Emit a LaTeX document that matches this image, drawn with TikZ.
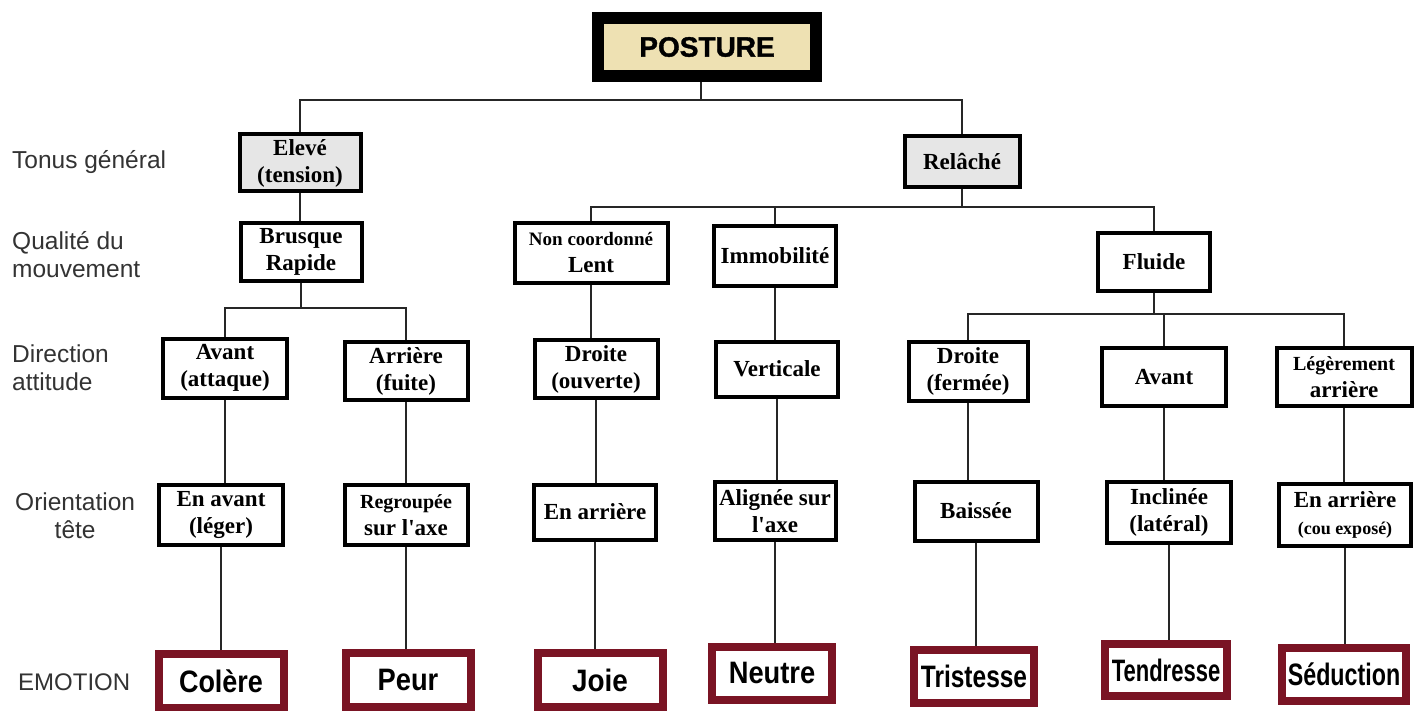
\documentclass[tikz,border=0pt]{standalone}
\usepackage{fontspec}
\setmainfont{Liberation Serif}
\newfontfamily\labfont{Liberation Sans}
\newfontfamily\heavyfont[BoldFeatures={FakeBold=1.3}]{Liberation Sans}
\newfontfamily\emofont{Liberation Sans}
\definecolor{beige}{HTML}{EEE1B3}
\definecolor{boxgray}{HTML}{E6E6E6}
\definecolor{emored}{HTML}{7A1424}
\definecolor{labgray}{HTML}{333333}
\newcommand{\emotext}[2]{\scalebox{#1}[1]{#2}}
\newcommand{\apos}{\textquotesingle}
\begin{document}
\begin{tikzpicture}[x=1pt,y=-1pt,
  box/.style={draw=black, line width=4pt, fill=white, inner sep=0pt, align=center,
    font=\bfseries\fontsize{23}{27}\selectfont},
  graybox/.style={box, fill=boxgray},
  postbox/.style={draw=black, line width=12pt, fill=beige, inner sep=0pt,
    font=\heavyfont\bfseries\fontsize{28}{30}\selectfont},
  emobox/.style={draw=emored, line width=8pt, fill=white, inner sep=0pt,
    font=\emofont\bfseries\fontsize{31}{34}\selectfont},
  lab/.style={inner sep=0pt, text=labgray, font=\labfont\fontsize{24.5}{28}\selectfont},
  conn/.style={draw=black!85, line width=1.3pt}
]
\useasboundingbox[fill=white] (0,0) rectangle (1423,711);

% title
\node[postbox, minimum width=218pt, minimum height=58pt] (post) at (707,47) {POSTURE};

% tonus
\node[graybox, minimum width=121pt, minimum height=57pt] (elev) at (300,163) {Elevé\\(tension)};
\node[graybox, minimum width=115pt, minimum height=51pt] (rel) at (962,162) {Relâché};

% qualite
\node[box, minimum width=121pt, minimum height=58pt] (brus) at (301,252) {Brusque\\Rapide};
\node[box, minimum width=153pt, minimum height=60pt] (nonc) at (591,253)
  {{\fontsize{19}{22}\selectfont Non coordonné}\\Lent};
\node[box, minimum width=122pt, minimum height=59pt] (immo) at (775,256) {Immobilité};
\node[box, minimum width=112pt, minimum height=58pt] (flui) at (1154,262) {Fluide};

% direction
\node[box, minimum width=124pt, minimum height=59pt] (d1) at (225,368) {Avant\\(attaque)};
\node[box, minimum width=123pt, minimum height=58pt] (d2) at (406,371) {Arrière\\(fuite)};
\node[box, minimum width=123pt, minimum height=58pt] (d3) at (596,369) {Droite\\(ouverte)};
\node[box, minimum width=122pt, minimum height=55pt] (d4) at (777,369) {Verticale};
\node[box, minimum width=119pt, minimum height=59pt] (d5) at (968,371) {Droite\\(fermée)};
\node[box, minimum width=124pt, minimum height=58pt] (d6) at (1164,377) {Avant};
\node[box, minimum width=135pt, minimum height=58pt] (d7) at (1344,377)
  {{\fontsize{20}{24}\selectfont Légèrement}\\arrière};

% orientation
\node[box, minimum width=124pt, minimum height=60pt] (o1) at (221,515) {En avant\\(léger)};
\node[box, minimum width=123pt, minimum height=60pt] (o2) at (406,515)
  {\fontsize{20}{25}\selectfont Regroupée\\sur l\apos axe};
\node[box, minimum width=122pt, minimum height=55pt] (o3) at (595,512) {En arrière};
\node[box, minimum width=121pt, minimum height=58pt] (o4) at (775,511) {Alignée sur\\l\apos axe};
\node[box, minimum width=123pt, minimum height=59pt] (o5) at (976,511) {Baissée};
\node[box, minimum width=124pt, minimum height=61pt] (o6) at (1169,512) {Inclinée\\(latéral)};
\node[box, minimum width=132pt, minimum height=62pt] (o7) at (1345,515)
  {En arrière\\{\fontsize{18}{22}\selectfont (cou exposé)}};

% emotions
\node[emobox, minimum width=125pt, minimum height=54pt] (e1) at (221,681) {\emotext{0.87}{Colère}};
\node[emobox, minimum width=125pt, minimum height=54pt] (e2) at (408,680) {\emotext{0.88}{Peur}};
\node[emobox, minimum width=125pt, minimum height=54pt] (e3) at (600,680) {\emotext{0.9}{Joie}};
\node[emobox, minimum width=120pt, minimum height=53pt] (e4) at (772,673) {\emotext{0.88}{Neutre}};
\node[emobox, minimum width=120pt, minimum height=53pt] (e5) at (974,676) {\emotext{0.79}{Tristesse}};
\node[emobox, minimum width=122pt, minimum height=52pt] (e6) at (1166,670) {\emotext{0.71}{Tendresse}};
\node[emobox, minimum width=124pt, minimum height=53pt] (e7) at (1344,674) {\emotext{0.75}{Séduction}};

% row labels
\node[lab, anchor=west] (l1) at (12,162) {Tonus général};
\node[lab, anchor=west, align=left] (l2) at (12,255) {Qualité du\\mouvement};
\node[lab, anchor=west, align=left] (l3) at (12,368) {Direction\\attitude};
\node[lab, anchor=west, align=center] (l4) at (15,516) {Orientation\\tête};
\node[lab, anchor=west, font=\labfont\fontsize{24}{28}\selectfont] (l5) at (18,682) {EMOTION};

% junctions
\coordinate (j1) at (701,100);
\coordinate (j2) at (962,207);
\coordinate (j3) at (301,308);
\coordinate (j4) at (1154,314);

% tree connectors
\draw[conn] (post.south -| j1) -- (j1);
\draw[conn] (elev.north) |- (j1) -| (rel.north);
\draw[conn] (rel.south) -- (j2);
\draw[conn] (nonc.north) |- (j2) -| (flui.north);
\draw[conn] (immo.north) -- (immo.north |- j2);
\draw[conn] (elev.south) -- (elev.south |- brus.north);
\draw[conn] (brus.south) -- (j3);
\draw[conn] (d1.north) |- (j3) -| (d2.north);
\draw[conn] (nonc.south) -- (nonc.south |- d3.north);
\draw[conn] (immo.south) -- (immo.south |- d4.north);
\draw[conn] (flui.south) -- (j4);
\draw[conn] (d5.north) |- (j4) -| (d7.north);
\draw[conn] (d6.north) -- (d6.north |- j4);

% vertical chains
\foreach \i in {1,...,7}{
  \draw[conn] (d\i.south) -- (d\i.south |- o\i.north);
  \draw[conn] (o\i.south) -- (o\i.south |- e\i.north);
}
\end{tikzpicture}
\end{document}
